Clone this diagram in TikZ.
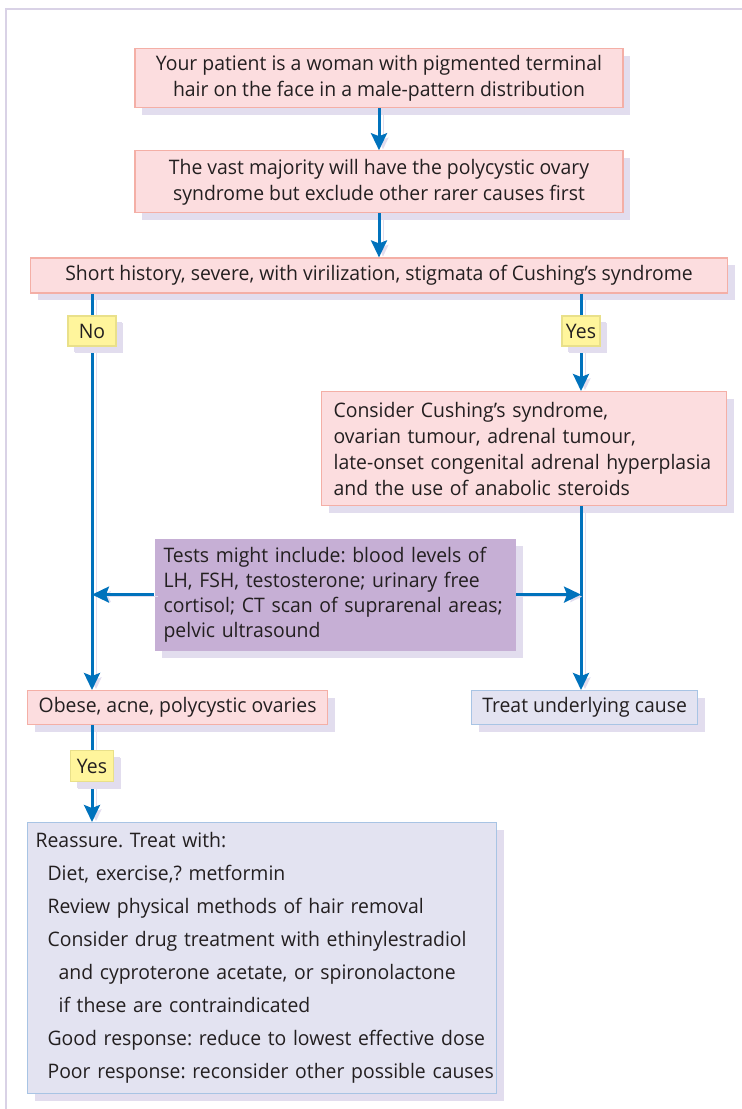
\documentclass[tikz,border=0pt]{standalone}
\usepackage{fontspec}
\setmainfont{Open Sans}[FakeStretch=0.97]
\frenchspacing
\usetikzlibrary{arrows.meta,positioning,shadows}
\definecolor{ink}{HTML}{231F20}
\definecolor{flowblue}{HTML}{0072BC}
\definecolor{shade}{HTML}{E2DDEE}
\definecolor{framec}{HTML}{D9D2E6}
\definecolor{pinkfill}{HTML}{FCDDDF}
\definecolor{pinkline}{HTML}{F4AFA6}
\definecolor{lilacfill}{HTML}{C6AFD5}
\definecolor{greyfill}{HTML}{E3E3F1}
\definecolor{greyline}{HTML}{A8C4E4}
\definecolor{yellowfill}{HTML}{FFF59C}
\definecolor{yellowline}{HTML}{E9E08A}
\tikzset{
  box/.style={
    rectangle,inner sep=0pt,line width=1.2pt,text=ink,
    font=\fontsize{20}{26}\selectfont,
    drop shadow={shadow xshift=7pt,shadow yshift=-7pt,fill=shade,opacity=1}
  },
  pinkbox/.style={box,draw=pinkline,fill=pinkfill,align=center},
  leftbox/.style={box,draw=pinkline,fill=pinkfill,align=left,inner xsep=12pt},
  testbox/.style={box,fill=lilacfill,align=left,inner xsep=9pt,
    font=\fontsize{20}{25}\selectfont},
  greybox/.style={box,draw=greyline,fill=greyfill,align=center},
  answer/.style={box,draw=yellowline,fill=yellowfill,minimum height=30pt,
    drop shadow={shadow xshift=6pt,shadow yshift=-6pt,fill=shade,opacity=1}},
  flow/.style={-{Stealth[length=17pt,width=16pt,inset=3pt]},line width=3pt,draw=flowblue,
    preaction={draw=shade,transform canvas={shift={(4pt,-2pt)}}}},
  plain/.style={line width=3pt,draw=flowblue,
    preaction={draw=shade,transform canvas={shift={(4pt,-2pt)}}}}
}

\begin{document}
\begin{tikzpicture}[x=1pt,y=-1pt]
  \useasboundingbox (0,0) rectangle (742,1109);
  \draw[framec,line width=1.5pt] (742,9) -- (6,9) -- (6,1109);

  \node[pinkbox,minimum width=488pt,minimum height=59pt,anchor=north] (hair) at (379,48)
    {Your patient is a woman with pigmented terminal\\hair on the face in a male-pattern distribution};
  \node[pinkbox,minimum width=488pt,minimum height=62pt,below=42pt of hair] (majority)
    {The vast majority will have the polycystic ovary\\syndrome but exclude other rarer causes first};
  \node[pinkbox,minimum width=697pt,minimum height=35pt,below=44pt of majority] (history)
    {Short history, severe, with virilization, stigmata of Cushing’s syndrome};

  \node[answer,minimum width=48pt] (no) at (92,331) {No};
  \node[answer,minimum width=38pt] (yes) at (581,331) {Yes};

  \node[leftbox,text width=381pt,minimum height=114pt,anchor=north west] (cushing) at (321,391)
    {Consider Cushing’s syndrome,\\ovarian tumour, adrenal tumour,\\
     \mbox{late-onset congenital adrenal hyperplasia}\\and the use of anabolic steroids};
  \node[testbox,text width=343pt,minimum height=112pt,anchor=north west] (tests) at (154,538)
    {\mbox{Tests might include: blood levels of}\\\mbox{LH, FSH, testosterone; urinary free}\\
     \mbox{cortisol; CT scan of suprarenal areas;}\\pelvic ultrasound};

  \node[pinkbox,minimum width=300pt,minimum height=34pt,anchor=north west] (obese) at (27,690)
    {Obese, acne, polycystic ovaries};
  \node[greybox,minimum width=226pt,minimum height=34pt,anchor=north west] (treat) at (471,690)
    {Treat underlying cause};

  \node[answer,minimum width=43pt,minimum height=31pt] (yesb) at (92,766) {Yes};

  \node[box,draw=greyline,fill=greyfill,align=left,inner xsep=8pt,text width=453pt,
    minimum height=271pt,font=\fontsize{20}{33}\selectfont,anchor=north west] (reassure) at (27,822)
    {Reassure. Treat with:\\
     \hspace*{12pt}Diet, exercise,? metformin\\
     \hspace*{12pt}\mbox{Review physical methods of hair removal}\\
     \hspace*{12pt}\mbox{Consider drug treatment with ethinylestradiol}\\
     \hspace*{23pt}\mbox{and cyproterone acetate, or spironolactone}\\
     \hspace*{23pt}if these are contraindicated\\
     \hspace*{12pt}\mbox{Good response: reduce to lowest effective dose}\\
     \hspace*{12pt}\mbox{Poor response: reconsider other possible causes}};

  \draw[flow] (hair) -- (majority);
  \draw[flow] (majority) -- (history);
  \draw[plain] (history.south -| no) -- (no);
  \draw[flow] (no) -- (obese.north -| no);
  \draw[plain] (history.south -| yes) -- (yes);
  \draw[flow] (yes) -- (cushing.north -| yes);
  \draw[flow] (cushing.south -| yes) -- (treat.north -| yes);
  \draw[flow] (tests.west) -- (tests.west -| no);
  \draw[flow] (tests.east) -- (tests.east -| yes);
  \draw[plain] (obese.south -| yesb) -- (yesb);
  \draw[flow] (yesb) -- (reassure.north -| yesb);
  \node[answer,minimum width=48pt] at (no) {No};
  \node[answer,minimum width=38pt] at (yes) {Yes};
  \node[answer,minimum width=43pt,minimum height=31pt] at (yesb) {Yes};
\end{tikzpicture}
\end{document}
